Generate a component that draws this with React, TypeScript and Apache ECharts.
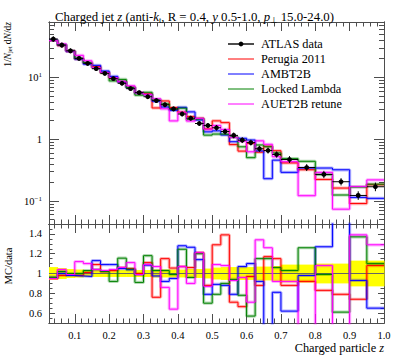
import React, { useEffect, useRef } from "react";
import * as echarts from "echarts";

const FONT = "'Liberation Serif', 'Times New Roman', serif";
const FRAME = "#4d4d4d";

// Bin edges of the histogram (z)
const binEdges = [0.025, 0.05, 0.075, 0.1, 0.125, 0.15, 0.175, 0.2, 0.225, 0.25, 0.275, 0.3, 0.325, 0.35, 0.375, 0.4, 0.425, 0.45, 0.475, 0.5, 0.525, 0.55, 0.575, 0.6, 0.625, 0.65, 0.675, 0.7, 0.75, 0.8, 0.85, 0.9, 0.95, 1.0];

// ATLAS data: 1/Njet dN/dz
const atlasData = [41.5, 33.2, 26.8, 20.2, 16.8, 13.8, 11.6, 9.5, 8.0, 6.55, 5.65, 4.85, 4.2, 3.6, 3.08, 2.55, 2.18, 1.79, 1.66, 1.53, 1.33, 1.15, 0.964, 0.88, 0.70, 0.655, 0.565, 0.469, 0.348, 0.269, 0.205, 0.123, 0.17];
// relative uncertainty of the data (yellow band)
const atlasRelErr = [0.065, 0.055, 0.045, 0.04, 0.035, 0.035, 0.035, 0.035, 0.035, 0.035, 0.035, 0.035, 0.04, 0.04, 0.04, 0.04, 0.045, 0.045, 0.05, 0.06, 0.065, 0.065, 0.065, 0.065, 0.07, 0.07, 0.075, 0.09, 0.09, 0.1, 0.1, 0.13, 0.13];

// MC / data ratios
const perugiaRatio = [0.95, 0.98, 0.99, 0.98, 1.01, 1.09, 1.02, 1.03, 1.06, 1.05, 1.0, 1.11, 0.76, 1.15, 1.055, 1.07, 1.06, 1.21, 0.88, 1.29, 1.39, 0.71, 0.665, 0.97, 0.88, 1.17, 1.15, 0.88, 0.92, 0.83, 0.79, 0.74, 1.08];
const ambt2bRatio = [0.96, 1.0, 0.98, 0.975, 0.97, 1.13, 1.09, 1.09, 1.05, 1.04, 0.99, 1.085, 0.975, 0.92, 0.95, 1.28, 1.265, 1.14, 0.79, 0.89, 0.88, 0.79, 1.07, 1.1, 0.92, 0.35, 0.81, 0.62, 0.98, 1.27, 1.56, 0.93, 0.65];
const lockedLambdaRatio = [0.96, 1.02, 1.0, 1.0, 1.03, 1.04, 1.02, 0.92, 1.155, 1.045, 0.91, 1.18, 1.03, 1.03, 0.99, 1.245, 0.96, 1.2, 0.7, 0.79, 0.9, 0.94, 0.78, 0.57, 1.15, 1.15, 1.06, 1.03, 1.26, 0.99, 0.61, 1.37, 1.1];
const auet2bRatio = [0.95, 1.04, 0.99, 1.12, 1.1, 1.04, 1.03, 1.04, 1.06, 1.11, 0.99, 1.09, 1.07, 0.86, 0.64, 1.07, 0.9, 1.21, 0.87, 1.09, 1.08, 0.93, 0.96, 0.71, 1.34, 1.26, 0.92, 0.92, 0.35, 1.08, 0.36, 1.39, 1.29];

const mcNames = ["Perugia 2011", "AMBT2B", "Locked Lambda", "AUET2B retune"];
const mcColors = ["#ff0000", "#0000ff", "#008000", "#ff00ff"];
const mcRatios = [perugiaRatio, ambt2bRatio, lockedLambdaRatio, auet2bRatio];

// ticks
const xMajorTicks = [0.1, 0.2, 0.3, 0.4, 0.5, 0.6, 0.7, 0.8, 0.9, 1.0];
const xTickLabels = ["0.1", "0.2", "0.3", "0.4", "0.5", "0.6", "0.7", "0.8", "0.9", "1.0"];
const xMinorTicks: number[] = [];
for (let k = 2; k <= 50; k++) {
  if (k % 5 !== 0) xMinorTicks.push(Math.round(k * 2) / 100);
}
const yTopMajor = [0.1, 1, 10];
const yTopMinor: number[] = [];
[0.01, 0.1, 1, 10].forEach((d) => {
  for (let m = 2; m <= 9; m++) {
    const v = parseFloat((m * d).toPrecision(3));
    if (v > 0.0425 && v < 78.3) yTopMinor.push(v);
  }
});
const yRatioMajor = [0.6, 0.8, 1.0, 1.2, 1.4];
const yRatioLabels = ["0.6", "0.8", "1", "1.2", "1.4"];
const yRatioMinor = [0.5, 0.55, 0.65, 0.7, 0.75, 0.85, 0.9, 0.95, 1.05, 1.1, 1.15, 1.25, 1.3, 1.35, 1.45, 1.5];

const X_MIN = 0.025;
const X_MAX = 1.0;
const Y_TOP_MIN = 0.0425;
const Y_TOP_MAX = 78.3;
const Y_RATIO_MIN = 0.5;
const Y_RATIO_MAX = 1.5;

function stepPoints(vals: number[]) {
  const pts: number[][] = [];
  vals.forEach((v, i) => {
    pts.push([binEdges[i], v]);
    pts.push([binEdges[i + 1], v]);
  });
  return pts;
}

const tickLine = { color: FRAME, width: 1 };

function xAxis(grid: number, pos: string, values: number[], len: number, labels: boolean) {
  return {
    type: "value",
    gridIndex: grid,
    position: pos,
    min: X_MIN,
    max: X_MAX,
    axisLine: { show: true, onZero: false, lineStyle: { color: FRAME, width: 1 } },
    axisTick: { show: true, inside: true, length: len, customValues: values, lineStyle: tickLine },
    axisLabel: labels
      ? {
          show: true,
          customValues: values,
          margin: 7,
          fontSize: 10.5,
          fontFamily: FONT,
          color: "#000",
          formatter: (v: number) => {
            const i = xMajorTicks.findIndex((t) => Math.abs(t - v) < 1e-6);
            return i >= 0 ? xTickLabels[i] : "";
          },
        }
      : { show: false },
    splitLine: { show: false },
  };
}

function yAxis(grid: number, pos: string, type: string, min: number, max: number, values: number[], len: number, labelFmt: any) {
  return {
    type,
    logBase: 10,
    gridIndex: grid,
    position: pos,
    min,
    max,
    axisLine: { show: true, onZero: false, lineStyle: { color: FRAME, width: 1 } },
    axisTick: { show: true, inside: true, length: len, customValues: values, lineStyle: tickLine },
    axisLabel: labelFmt
      ? {
          show: true,
          customValues: values,
          margin: 7,
          fontSize: 10.5,
          fontFamily: FONT,
          color: "#000",
          formatter: labelFmt,
          rich: {
            sup: { fontSize: 7, verticalAlign: "top", lineHeight: 8, fontFamily: FONT, color: "#000" },
          },
        }
      : { show: false },
    splitLine: { show: false },
  };
}

const topLabelFmt = (v: number) => {
  const e = Math.round(Math.log10(v));
  if (e === 0) return "1";
  return "10{sup|" + (e < 0 ? "\u2212" : "") + Math.abs(e) + "}";
};
const ratioLabelFmt = (v: number) => {
  const i = yRatioMajor.findIndex((t) => Math.abs(t - v) < 1e-6);
  return i >= 0 ? yRatioLabels[i] : "";
};

function buildOption() {
  const series: any[] = [];

  // ---- top panel MC halos + lines
  mcRatios.forEach((r, k) => {
    const vals = r.map((x, i) => x * atlasData[i]);
    series.push({
      type: "line", name: mcNames[k] + " band", xAxisIndex: 0, yAxisIndex: 0,
      data: stepPoints(vals), symbol: "none", silent: true,
      lineStyle: { color: mcColors[k], width: 3.2, opacity: 0.3 }, z: 2,
    });
  });
  mcRatios.forEach((r, k) => {
    const vals = r.map((x, i) => x * atlasData[i]);
    series.push({
      type: "line", name: mcNames[k], xAxisIndex: 0, yAxisIndex: 0,
      data: stepPoints(vals), symbol: "none",
      lineStyle: { color: mcColors[k], width: 1 }, z: 3,
    });
  });

  // ---- data points
  series.push({
    type: "custom", name: "ATLAS data", xAxisIndex: 0, yAxisIndex: 0, z: 10,
    data: atlasData.map((v, i) => [binEdges[i], binEdges[i + 1], v, v * (1 - atlasRelErr[i] * 0.8), v * (1 + atlasRelErr[i] * 0.8)]),
    encode: { x: [0, 1], y: [2, 3, 4] },
    renderItem: (params: any, api: any) => {
      const lo = api.value(0), hi = api.value(1), v = api.value(2);
      const mid = (lo + hi) / 2;
      const pL = api.coord([lo, v]);
      const pR = api.coord([hi, v]);
      const pC = api.coord([mid, v]);
      const pD = api.coord([mid, api.value(3)]);
      const pU = api.coord([mid, api.value(4)]);
      return {
        type: "group",
        children: [
          { type: "line", shape: { x1: pL[0], y1: pL[1], x2: pR[0], y2: pR[1] }, style: { stroke: "#000", lineWidth: 1 } },
          { type: "line", shape: { x1: pC[0], y1: pD[1] + 1.5, x2: pC[0], y2: pU[1] - 1.5 }, style: { stroke: "#000", lineWidth: 1 } },
          { type: "circle", shape: { cx: pC[0], cy: pC[1], r: 2.4 }, style: { fill: "#000" } },
        ],
      };
    },
  });

  // ---- ratio panel: yellow data band
  series.push({
    type: "custom", name: "data band", xAxisIndex: 4, yAxisIndex: 4, z: 1,
    data: atlasRelErr.map((e, i) => [binEdges[i], binEdges[i + 1], 1 - e, 1 + e]),
    encode: { x: [0, 1], y: [2, 3] },
    renderItem: (params: any, api: any) => {
      const a = api.coord([api.value(0), api.value(3)]);
      const b = api.coord([api.value(1), api.value(2)]);
      return {
        type: "rect",
        shape: { x: a[0], y: a[1], width: b[0] - a[0] + 0.5, height: b[1] - a[1] },
        style: { fill: "#ffff00" },
      };
    },
  });
  // unity line
  series.push({
    type: "line", name: "unity", xAxisIndex: 4, yAxisIndex: 4, z: 2,
    data: [[X_MIN, 1], [X_MAX, 1]], symbol: "none", silent: true,
    lineStyle: { color: "#666", width: 1 },
  });
  mcRatios.forEach((r, k) => {
    series.push({
      type: "line", name: mcNames[k] + " rband", xAxisIndex: 4, yAxisIndex: 4,
      data: stepPoints(r), symbol: "none", silent: true, clip: true,
      lineStyle: { color: mcColors[k], width: 3.2, opacity: 0.3 }, z: 3,
    });
  });
  mcRatios.forEach((r, k) => {
    series.push({
      type: "line", name: mcNames[k] + " ratio", xAxisIndex: 4, yAxisIndex: 4,
      data: stepPoints(r), symbol: "none", clip: true,
      lineStyle: { color: mcColors[k], width: 1 }, z: 4,
    });
  });

  // ---- legend (drawn as graphic)
  const legendNames = ["ATLAS data", ...mcNames];
  const legendColors = ["#000", ...mcColors];
  const graphic: any[] = [];
  legendNames.forEach((n, i) => {
    const y = 44 + i * 15;
    graphic.push({
      type: "line", shape: { x1: 228, y1: y, x2: 254, y2: y },
      style: { stroke: legendColors[i], lineWidth: i === 0 ? 1.4 : 1 },
    });
    if (i === 0) graphic.push({ type: "circle", shape: { cx: 241, cy: y, r: 2.4 }, style: { fill: "#000" } });
    graphic.push({
      type: "text", x: 261, y,
      style: { text: n, fontSize: 12.3, fontFamily: FONT, fill: "#000", align: "left", verticalAlign: "middle" },
    });
  });
  // y axis titles
  graphic.push({
    type: "text", x: 8, y: 22, rotation: Math.PI / 2,
    style: {
      text: "1/{i|N}{sub|jet} d{i|N}/d{i|z}", fontSize: 9.5, fontFamily: FONT, fill: "#000",
      align: "right", verticalAlign: "middle",
      rich: {
        i: { fontStyle: "italic", fontSize: 9.5, fontFamily: FONT },
        sub: { fontSize: 6.5, fontFamily: FONT, verticalAlign: "bottom", lineHeight: 7 },
      },
    },
  });
  graphic.push({
    type: "text", x: 8, y: 266, rotation: Math.PI / 2,
    style: { text: "MC/data", fontSize: 10.5, fontFamily: FONT, fill: "#000", align: "center", verticalAlign: "middle" },
  });
  // x axis title
  graphic.push({
    type: "text", x: 384, y: 348,
    style: {
      text: "Charged particle {i|z}", fontSize: 12.3, fontFamily: FONT, fill: "#000",
      align: "right", verticalAlign: "middle",
      rich: { i: { fontStyle: "italic", fontSize: 12.3, fontFamily: FONT } },
    },
  });

  return {
    animation: false,
    backgroundColor: "#fff",
    title: {
      left: 50, top: 4,
      text: "Charged jet {i|z} (anti-{i|k}{sub|t}, R = 0.4, {i|y} 0.5-1.0, {i|p}{perp|\u22a5} 15.0-24.0)",
      textStyle: {
        fontSize: 12.8, fontWeight: "normal", fontFamily: FONT, color: "#000", lineHeight: 15,
        rich: {
          i: { fontStyle: "italic", fontSize: 12.8, fontFamily: FONT, color: "#000" },
          sub: { fontSize: 8.5, fontFamily: FONT, color: "#000", verticalAlign: "bottom", lineHeight: 8 },
          perp: { fontSize: 8.5, fontFamily: "'DejaVu Sans', sans-serif", color: "#000", verticalAlign: "bottom", lineHeight: 8 },
        },
      },
    },
    grid: [
      { left: 49, width: 335, top: 22, height: 202, outerBoundsMode: "none" },
      { left: 49, width: 335, top: 224, height: 99, outerBoundsMode: "none" },
    ],
    xAxis: [
      xAxis(0, "bottom", xMajorTicks, 9, false),
      xAxis(0, "bottom", xMinorTicks, 4.5, false),
      xAxis(0, "top", xMajorTicks, 9, false),
      xAxis(0, "top", xMinorTicks, 4.5, false),
      xAxis(1, "bottom", xMajorTicks, 9, true),
      xAxis(1, "bottom", xMinorTicks, 4.5, false),
      xAxis(1, "top", xMajorTicks, 9, false),
      xAxis(1, "top", xMinorTicks, 4.5, false),
    ],
    yAxis: [
      yAxis(0, "left", "log", Y_TOP_MIN, Y_TOP_MAX, yTopMajor, 10, topLabelFmt),
      yAxis(0, "left", "log", Y_TOP_MIN, Y_TOP_MAX, yTopMinor, 5, null),
      yAxis(0, "right", "log", Y_TOP_MIN, Y_TOP_MAX, yTopMajor, 10, null),
      yAxis(0, "right", "log", Y_TOP_MIN, Y_TOP_MAX, yTopMinor, 5, null),
      yAxis(1, "left", "value", Y_RATIO_MIN, Y_RATIO_MAX, yRatioMajor, 6, ratioLabelFmt),
      yAxis(1, "left", "value", Y_RATIO_MIN, Y_RATIO_MAX, yRatioMinor, 3.5, null),
      yAxis(1, "right", "value", Y_RATIO_MIN, Y_RATIO_MAX, yRatioMajor, 6, null),
      yAxis(1, "right", "value", Y_RATIO_MIN, Y_RATIO_MAX, yRatioMinor, 3.5, null),
    ],
    series,
    graphic,
  };
}

export default function App() {
  const ref = useRef<HTMLDivElement>(null);
  useEffect(() => {
    document.body.style.margin = "0";
    const chart = echarts.init(ref.current!, null, { renderer: "svg" });
    chart.setOption(buildOption() as any);
    return () => chart.dispose();
  }, []);
  return <div ref={ref} style={{ width: 397, height: 358 }} />;
}
